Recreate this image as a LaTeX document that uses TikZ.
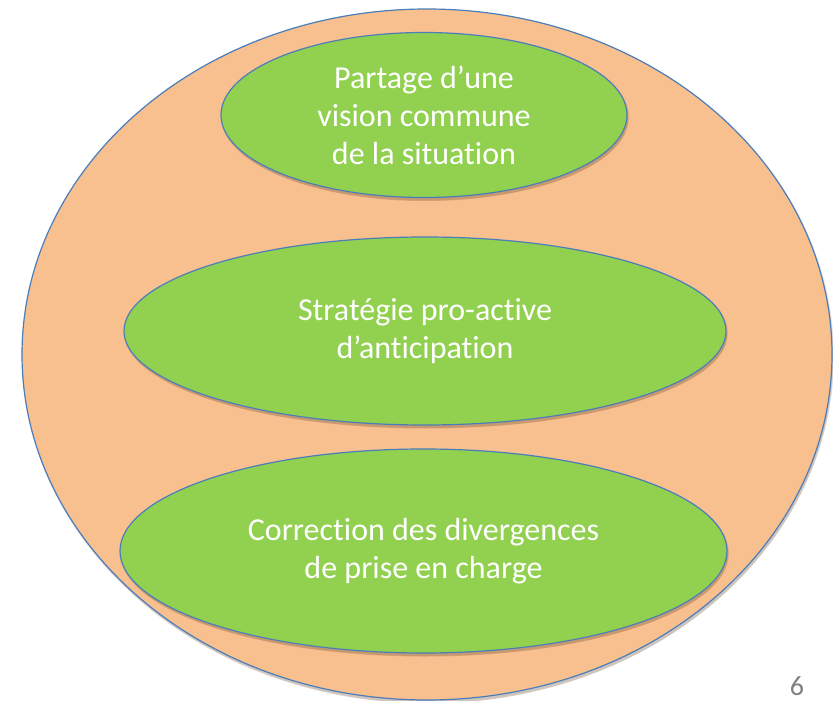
\documentclass[tikz,border=0pt]{standalone}
\usepackage{fontspec}
\setmainfont[Ligatures={NoCommon}]{Carlito}
\usetikzlibrary{shapes.geometric}
\definecolor{orfill}{HTML}{F8BF8F}
\definecolor{grfill}{HTML}{92D050}
\definecolor{bord}{HTML}{4A7EBB}
\definecolor{numgray}{HTML}{808080}
\definecolor{shad}{HTML}{6A4A30}
\tikzset{
  blob/.style={ellipse, draw=bord, line width=1.2pt, inner sep=0pt},
  outer/.style={blob, fill=orfill},
  inner/.style={blob, fill=grfill, text=white, align=center,
    font=\fontsize{32}{38}\selectfont},
  shadowlayer/.style={fill=shad, opacity=0.12},
}
\newcommand{\mysoftshadow}[4]{%
  \fill[shadowlayer] (#1+1,#2+2) ellipse [x radius=#3+1, y radius=#4+1.5];
  \fill[shadowlayer] (#1+1.5,#2+3) ellipse [x radius=#3, y radius=#4+0.5];
  \fill[shadowlayer] (#1+1.5,#2+3.5) ellipse [x radius=#3-0.5, y radius=#4-0.5];
}
\begin{document}
\begin{tikzpicture}[x=1pt,y=-1pt]
\useasboundingbox (0,0) rectangle (833,701);
\mysoftshadow{427}{354.5}{405}{345.5}
\node[outer, minimum width=810pt, minimum height=691pt] (big) at (427,354.5) {};
\mysoftshadow{424}{115}{203}{82.5}
\mysoftshadow{425}{331}{301}{94}
\mysoftshadow{423.5}{551}{303.5}{102}
\node[inner, minimum width=406pt, minimum height=165pt] (e1) at (424,115) {Partage d’une\\vision commune\\de la situation};
\node[inner, minimum width=602pt, minimum height=188pt] (e2) at (425,331) {Stratégie pro-active\\d’anticipation};
\node[inner, minimum width=607pt, minimum height=204pt] (e3) at (423.5,551) {Correction des divergences\\de prise en charge};
\node[text=numgray, font=\fontsize{28}{34}\selectfont, inner sep=0pt] (num) at (797,686) {6};
\end{tikzpicture}
\end{document}
